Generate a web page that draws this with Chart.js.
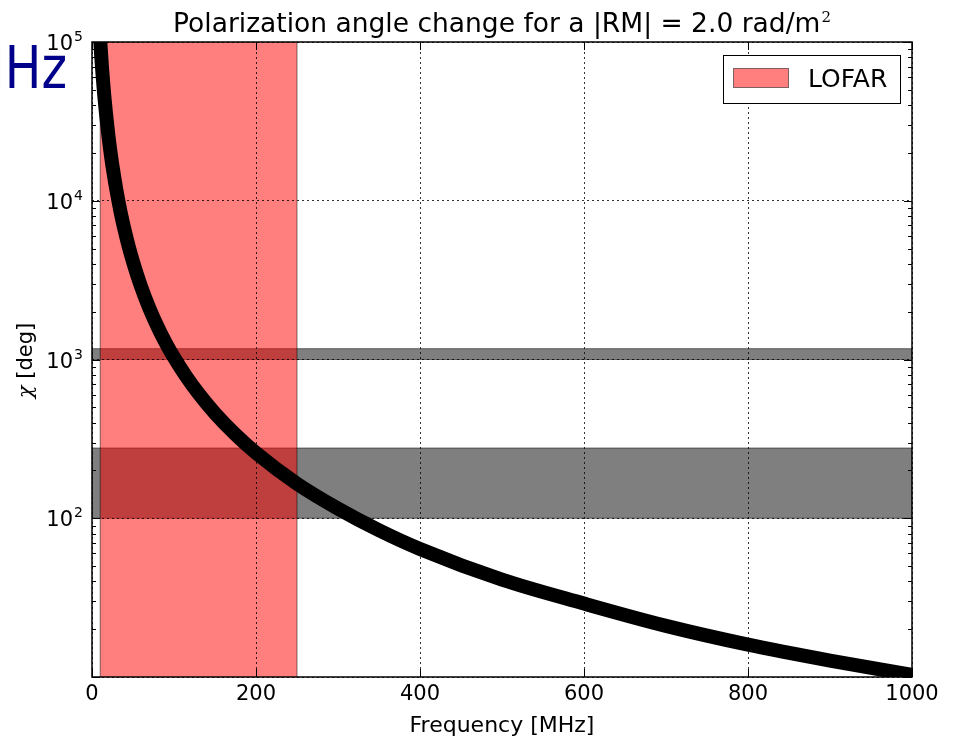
<!DOCTYPE html>
<html>
<head>
<meta charset="utf-8">
<script src="https://cdn.jsdelivr.net/npm/chart.js@4.4.1/dist/chart.umd.min.js"></script>
<style>
  html, body { margin: 0; padding: 0; background: #fff; }
  canvas { display: block; }
</style>
</head>
<body>
<canvas id="myChart" width="955" height="737"></canvas>
<script>
// Datos
var frequency = [10, 11, 12, 13, 14, 15, 17, 20, 23, 26, 30, 35, 40, 45, 50, 60, 70, 80, 90, 100,
  115, 130, 150, 175, 200, 250, 300, 350, 400, 500, 600, 700, 800, 900, 1000];
var chiDeg = [103000, 85200, 71600, 61000, 52600, 45800, 35700, 25800, 19500, 15300, 11500, 8420,
  6450, 5090, 4130, 2860, 2100, 1610, 1270, 1030, 780, 610, 458, 337, 258, 165, 115, 84, 64, 41,
  29, 21, 16, 12.7, 10.3];

// Bandas grises (chi) y banda LOFAR (frecuencia)
var bandLow = [1000, 100];
var bandHigh = [1170, 277];
var lofarRange = [10, 250];

// Ticks
var xTicks = [0, 200, 400, 600, 800, 1000];
var yTicks = [10, 100, 1000, 10000, 100000];
var yLabelExp = ["1", "2", "3", "4", "5"];

var FONT = '"DejaVu Sans", "Bitstream Vera Sans", sans-serif';

var points = frequency.map(function (f, i) { return { x: f, y: chiDeg[i] }; });

// Bandas debajo de la rejilla
var bandsPlugin = {
  id: "bands",
  beforeDraw: function (chart) {
    var c = chart.ctx, a = chart.chartArea, xs = chart.scales.x, ys = chart.scales.y;
    c.save();
    c.fillStyle = "#fff";
    c.fillRect(0, 0, chart.width, chart.height);
    c.beginPath();
    c.rect(a.left, a.top, a.right - a.left, a.bottom - a.top);
    c.clip();
    for (var i = 0; i < bandLow.length; i++) {
      var y1 = ys.getPixelForValue(bandHigh[i]);
      var y2 = ys.getPixelForValue(bandLow[i]);
      c.fillStyle = "rgba(0,0,0,0.5)";
      c.fillRect(a.left, y1, a.right - a.left, y2 - y1);
      c.strokeStyle = "rgba(0,0,0,0.5)";
      c.lineWidth = 1;
      c.strokeRect(a.left, y1, a.right - a.left, y2 - y1);
    }
    var x1 = xs.getPixelForValue(lofarRange[0]);
    var x2 = xs.getPixelForValue(lofarRange[1]);
    c.fillStyle = "rgba(255,0,0,0.5)";
    c.fillRect(x1, a.top, x2 - x1, a.bottom - a.top);
    c.strokeStyle = "rgba(0,0,0,0.5)";
    c.strokeRect(x1, a.top - 2, x2 - x1, a.bottom - a.top + 4);
    c.restore();
  }
};

// Marco, ticks, textos y leyenda
var decorPlugin = {
  id: "decor",
  afterDraw: function (chart) {
    var c = chart.ctx, a = chart.chartArea, xs = chart.scales.x, ys = chart.scales.y;
    c.save();
    c.strokeStyle = "#000";
    c.lineWidth = 1;
    // ticks x
    xTicks.forEach(function (v) {
      var px = Math.round(xs.getPixelForValue(v)) + 0.5;
      c.beginPath();
      c.moveTo(px, a.bottom); c.lineTo(px, a.bottom - 8);
      c.moveTo(px, a.top); c.lineTo(px, a.top + 8);
      c.stroke();
    });
    // ticks y mayores y menores
    for (var d = 10; d <= 100000; d *= 10) {
      for (var m = 1; m <= 9; m++) {
        var v = d * m;
        if (v > 100000) break;
        var py = Math.round(ys.getPixelForValue(v)) + 0.5;
        var len = m === 1 ? 8 : 4;
        c.beginPath();
        c.moveTo(a.left, py); c.lineTo(a.left + len, py);
        c.moveTo(a.right, py); c.lineTo(a.right - len, py);
        c.stroke();
      }
    }
    // marco
    c.lineWidth = 1.5;
    c.strokeRect(a.left, a.top, a.right - a.left, a.bottom - a.top);

    // etiquetas y
    c.fillStyle = "#000";
    c.textBaseline = "alphabetic";
    for (var i = 1; i < yTicks.length; i++) {
      var ty = ys.getPixelForValue(yTicks[i]);
      c.font = "14px " + FONT;
      var ew = c.measureText(yLabelExp[i]).width;
      c.textAlign = "right";
      c.fillText(yLabelExp[i], 83, ty - 1);
      c.font = "21px " + FONT;
      c.fillText("10", 83 - ew - 1, ty + 8);
    }

    // titulo
    var t = "Polarization angle change for a |RM| = 2.0 rad/m";
    c.font = "26.5px " + FONT;
    var tw = c.measureText(t).width;
    c.font = "15px \"DejaVu Serif\", serif";
    var sw = c.measureText("2").width;
    var tx = (a.left + a.right) / 2 - (tw + sw + 1) / 2;
    c.textAlign = "left";
    c.font = "26.5px " + FONT;
    c.fillText(t, tx, 32);
    c.font = "15px \"DejaVu Serif\", serif";
    c.fillText("2", tx + tw + 1, 22);

    // titulo eje x
    c.font = "22px " + FONT;
    c.textAlign = "center";
    c.fillText("Frequency [MHz]", (a.left + a.right) / 2, 732);

    // titulo eje y
    c.save();
    c.translate(32, (a.top + a.bottom) / 2 + 1);
    c.rotate(-Math.PI / 2);
    c.font = "italic 21px \"DejaVu Serif\", serif";
    var cw = c.measureText("\u03c7").width;
    c.font = "21px " + FONT;
    var lw = c.measureText(" [deg]").width;
    var lx = -(cw + lw) / 2;
    c.textAlign = "left";
    c.font = "italic 21px \"DejaVu Serif\", serif";
    c.fillText("\u03c7", lx, 0);
    c.font = "21px " + FONT;
    c.fillText(" [deg]", lx + cw, 0);
    c.restore();

    // leyenda
    c.fillStyle = "#fff";
    c.fillRect(723.5, 55.5, 177, 48);
    c.strokeStyle = "#000";
    c.lineWidth = 1;
    c.strokeRect(723.5, 55.5, 177, 48);
    c.fillStyle = "rgba(255,0,0,0.5)";
    c.fillRect(733.5, 68.5, 55, 19);
    c.strokeStyle = "rgba(0,0,0,0.5)";
    c.strokeRect(733.5, 68.5, 55, 19);
    c.fillStyle = "#000";
    c.font = "25px " + FONT;
    c.textAlign = "left";
    c.textBaseline = "middle";
    c.fillText("LOFAR", 808, 80);

    // texto azul cortado
    c.save();
    c.translate(67, 88);
    c.scale(0.84, 1);
    c.fillStyle = "#00008b";
    c.font = "58px " + FONT;
    c.textAlign = "right";
    c.textBaseline = "alphabetic";
    c.fillText("MHz", 0, 0);
    c.restore();
    c.restore();
  }
};

var ctx = document.getElementById("myChart").getContext("2d");

var myChart = new Chart(ctx, {
  type: "line",
  data: {
    datasets: [
      {
        label: "chi",
        data: points,
        borderColor: "#000",
        borderWidth: 14,
        pointRadius: 0,
        fill: false,
        cubicInterpolationMode: "monotone",
        clip: 0,
      },
    ],
  },
  options: {
    responsive: false,
    animation: false,
    layout: { padding: { left: 0, top: 42, right: 43, bottom: 0 } },
    plugins: { legend: { display: false }, tooltip: { enabled: false }, title: { display: false } },
    scales: {
      x: {
        type: "linear",
        min: 0,
        max: 1000,
        afterFit: function (s) { s.height = 60; },
        afterBuildTicks: function (s) { s.ticks = xTicks.map(function (v) { return { value: v }; }); },
        ticks: {
          color: "#000",
          font: { family: FONT, size: 21 },
          padding: 5,
          maxRotation: 0,
          callback: function (v) { return String(v); },
        },
        grid: { color: "rgba(0,0,0,0.8)", lineWidth: 1, drawTicks: false },
        border: { display: false, dash: [2, 3] },
      },
      y: {
        type: "logarithmic",
        min: 10,
        max: 100000,
        afterFit: function (s) { s.width = 92; },
        afterBuildTicks: function (s) { s.ticks = yTicks.map(function (v) { return { value: v }; }); },
        ticks: { display: false },
        grid: { color: "rgba(0,0,0,0.8)", lineWidth: 1, drawTicks: false },
        border: { display: false, dash: [2, 3] },
      },
    },
  },
  plugins: [bandsPlugin, decorPlugin],
});
</script>
</body>
</html>
